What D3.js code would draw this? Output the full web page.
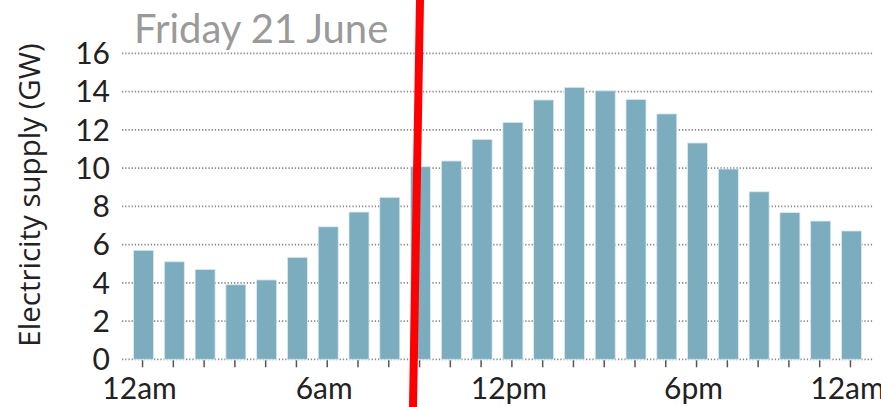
<!DOCTYPE html>
<html><head><meta charset="utf-8">
<script src="https://cdn.jsdelivr.net/npm/d3@7"></script>
<style>
html,body{margin:0;padding:0;background:#fff;}
svg{display:block;}
text{font-family:Lato,"Open Sans",sans-serif;}
</style></head>
<body>
<svg id="chart" width="881" height="407"></svg>
<script>
const hours = d3.range(24);
const supplyGW = [5.7,5.1,4.7,3.9,4.15,5.33,6.93,7.7,8.47,10.07,10.37,11.5,12.39,13.56,14.22,14.04,13.59,12.83,11.31,9.95,8.76,7.67,7.23,6.71];
const yTicks = [0,2,4,6,8,10,12,14,16];
const xTickLabels = [{i:0,t:"12am"},{i:6,t:"6am"},{i:12,t:"12pm"},{i:18,t:"6pm"},{i:23,t:"12am"}];
const titleText = "Friday 21 June";
const yTitle = "Electricity supply (GW)";

const svg = d3.select("#chart");
const left = 122, right = 873, y0 = 359.3, y1 = 53.3;
const x = d3.scaleBand().domain(hours).range([left, right]).paddingInner(0.35).paddingOuter(0.375);
const y = d3.scaleLinear().domain([0,16]).range([y0, y1]);

// gridlines
svg.append("g").selectAll("line").data(yTicks).join("line")
  .attr("x1", left).attr("x2", right)
  .attr("y1", d => y(d)).attr("y2", d => y(d))
  .attr("stroke", "#8a8a8a").attr("stroke-width", 1.8)
  .attr("stroke-dasharray", "1.3,1.9");

// y labels
svg.append("g").selectAll("text").data(yTicks).join("text")
  .attr("x", 110).attr("y", d => y(d)).attr("dy", "0.36em")
  .attr("text-anchor", "end").attr("font-size", 30).attr("fill", "#222")
  .text(d => d);

// bars
svg.append("g").selectAll("rect").data(hours).join("rect")
  .attr("x", d => x(d)).attr("width", x.bandwidth())
  .attr("y", d => y(supplyGW[d])).attr("height", d => y0 - y(supplyGW[d]))
  .attr("fill", "#7badbf").attr("stroke", "#dcebf0").attr("stroke-width", 0.8);

// x ticks
svg.append("g").selectAll("line").data(hours).join("line")
  .attr("x1", d => x(d) + x.bandwidth()/2 - 1).attr("x2", d => x(d) + x.bandwidth()/2 - 1)
  .attr("y1", y0 + 1).attr("y2", y0 + 8)
  .attr("stroke", "#555").attr("stroke-width", 1.5);

// x labels
svg.append("g").selectAll("text").data(xTickLabels).join("text")
  .attr("x", d => x(d.i) + x.bandwidth()/2 - 4)
  .attr("y", 399).attr("text-anchor", "middle")
  .attr("font-size", 30).attr("fill", "#222")
  .text(d => d.t);

// title
svg.append("text").attr("x", 134).attr("y", 43)
  .attr("font-size", 40).attr("fill", "#9a9a9a").text(titleText);

// y title
svg.append("text").attr("transform", "translate(40,195) rotate(-90)")
  .attr("text-anchor", "middle").attr("font-size", 29.5).attr("fill", "#222")
  .style("font-family", "'Open Sans', sans-serif")
  .text(yTitle);

// red annotation line
svg.append("line").attr("x1", 420).attr("y1", 0).attr("x2", 413).attr("y2", 407)
  .attr("stroke", "#ff0000").attr("stroke-width", 8);
</script>
</body></html>
